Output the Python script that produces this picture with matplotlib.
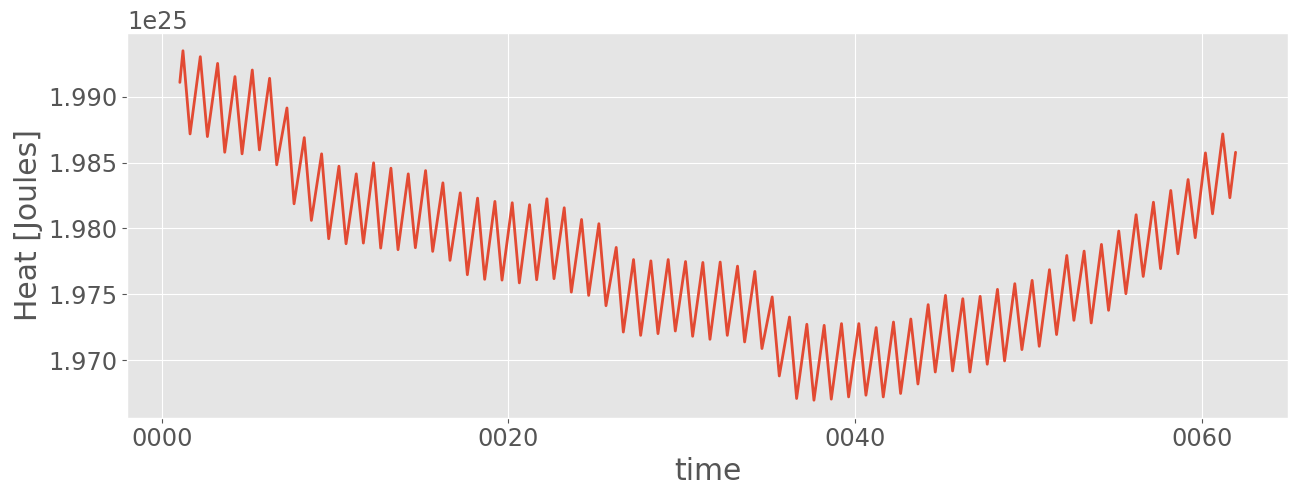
import matplotlib
matplotlib.use("Agg")
import matplotlib.pyplot as plt
from matplotlib.ticker import FixedLocator, FuncFormatter
import numpy as np

plt.style.use("ggplot")

# Model years (annual cycle read as one maximum and one minimum per year)
years = list(range(1, 62))
peak_phase = 0.22     # fraction of year where the annual maximum occurs
trough_phase = 0.63   # fraction of year where the annual minimum occurs

# Series values in units of 1e25 J
start_value = 1.99108   # first sample (January of year 1)
end_value = 1.98578     # last sample (December of year 61)

peaks = [
    1.99348, 1.99303, 1.99252, 1.99152, 1.99202, 1.99139, 1.98914, 1.98689, 1.98566, 1.98472,
    1.98414, 1.98498, 1.98457, 1.98414, 1.98439, 1.98346, 1.98270, 1.98230, 1.98205, 1.98195,
    1.98180, 1.98225, 1.98157, 1.98068, 1.98036, 1.97856, 1.97764, 1.97754, 1.97764, 1.97749,
    1.97742, 1.97745, 1.97714, 1.97674, 1.97480, 1.97328, 1.97273, 1.97265, 1.97278, 1.97278,
    1.97248, 1.97290, 1.97313, 1.97422, 1.97492, 1.97467, 1.97485, 1.97538, 1.97581, 1.97606,
    1.97687, 1.97795, 1.97828, 1.97879, 1.97980, 1.98104, 1.98199, 1.98288, 1.98371, 1.98573,
    1.98717,
]
troughs = [
    1.98717, 1.98697, 1.98578, 1.98566, 1.98596, 1.98483, 1.98187, 1.98061, 1.97922, 1.97884,
    1.97889, 1.97851, 1.97839, 1.97854, 1.97826, 1.97758, 1.97649, 1.97614, 1.97608, 1.97587,
    1.97611, 1.97619, 1.97517, 1.97492, 1.97414, 1.97214, 1.97189, 1.97202, 1.97222, 1.97182,
    1.97159, 1.97189, 1.97139, 1.97089, 1.96881, 1.96710, 1.96697, 1.96705, 1.96722, 1.96735,
    1.96722, 1.96748, 1.96820, 1.96911, 1.96919, 1.96911, 1.96970, 1.96995, 1.97081, 1.97106,
    1.97195, 1.97303, 1.97283, 1.97379, 1.97505, 1.97636, 1.97695, 1.97808, 1.97930, 1.98111,
    1.98233,
]

x_ticks = [0, 20, 40, 60]

# Assemble time / value sequence from the read values
t = [years[0] + 0.04]
v = [start_value]
for yr, p, tr in zip(years, peaks, troughs):
    t += [yr + peak_phase, yr + trough_phase]
    v += [p, tr]
t.append(years[-1] + 0.96)
v.append(end_value)
t = np.array(t)
v = np.array(v) * 1e25

fig = plt.figure(figsize=(12.98, 4.96), dpi=100)
ax = fig.add_axes([0.0981, 0.1579, 0.8940, 0.7750])
ax.plot(t, v, color="#E24A33", linewidth=2.0,
        solid_joinstyle="round", solid_capstyle="round")

ax.set_xlim(-1.99, 64.97)
ax.xaxis.set_major_locator(FixedLocator(x_ticks))
ax.xaxis.set_major_formatter(FuncFormatter(lambda val, pos: f"{int(round(val)):04d}"))
ax.ticklabel_format(axis="y", useOffset=False)

ax.tick_params(axis="both", labelsize=17.3, colors="#555555")
ax.yaxis.get_offset_text().set_fontsize(17.3)
ax.yaxis.get_offset_text().set_color("#555555")
ax.set_xlabel("time", fontsize=21.5, color="#555555")
ax.set_ylabel("Heat [Joules]", fontsize=21.5, color="#555555")

fig.savefig("out.png", dpi=100)
